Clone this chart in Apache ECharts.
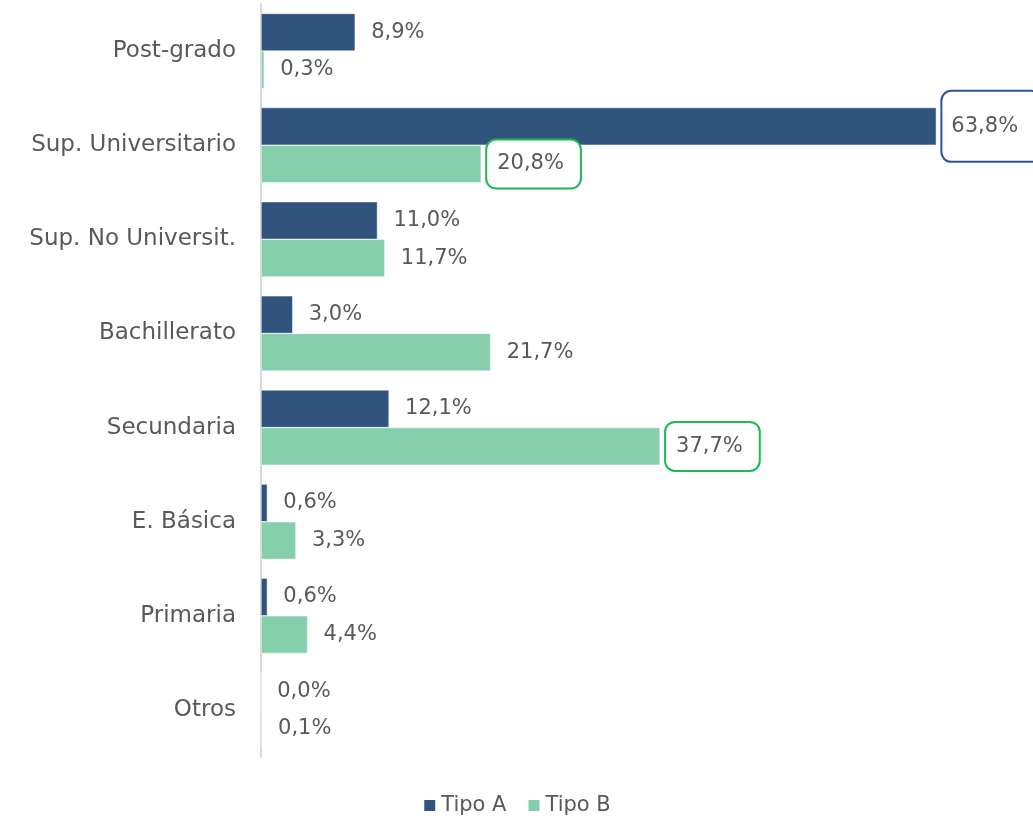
<!DOCTYPE html>
<html lang="es">
<head>
    <meta charset="utf-8">
    <title>Nivel educativo</title>
    <style>
        html, body { margin: 0; padding: 0; background: #fff; }
        #chart { width: 1033px; height: 821px; }
    </style>
</head>
<body>
<div id='chart'></div>
<script src='https://cdn.jsdelivr.net/npm/echarts@6/dist/echarts.min.js'></script>
<script>
var categories = ['Post-grado', 'Sup. Universitario', 'Sup. No Universit.', 'Bachillerato', 'Secundaria', 'E. Básica', 'Primaria', 'Otros'];
var tipoA = [8.9, 63.8, 11.0, 3.0, 12.1, 0.6, 0.6, 0.0];
var tipoB = [0.3, 20.8, 11.7, 21.7, 37.7, 3.3, 4.4, 0.1];
// labels drawn inside a rounded box
var boxedA = [1];
var boxedB = [1, 4];

var FONT = 'DejaVu Sans';
var TXT = '#595959';

function fmt(v) {
    return v.toFixed(1).replace('.', ',') + '%';
}

function buildData(values, boxed, boxColor, tall) {
    return values.map(function (v, i) {
        var item = { value: v };
        if (boxed.indexOf(i) >= 0) {
            item.label = {
                borderColor: boxColor,
                borderWidth: 2,
                borderRadius: 9,
                backgroundColor: '#fff',
                padding: tall ? [31, 22, 17, 9] : [14, 16, 12, 10]
            };
        }
        return item;
    });
}

var labelBase = {
    show: true,
    position: 'right',
    distance: 6,
    padding: [0, 0, 0, 10],
    color: TXT,
    fontFamily: FONT,
    fontSize: 21,
    formatter: function (p) { return fmt(p.value); }
};

var chart = echarts.init(document.getElementById('chart'));
chart.setOption({
    animation: false,
    grid: { left: 261, right: 31, top: 4, bottom: 64, containLabel: false },
    xAxis: {
        type: 'value',
        min: 0,
        max: 70,
        show: false
    },
    yAxis: {
        type: 'category',
        data: categories,
        inverse: true,
        axisLine: { show: true, lineStyle: { color: '#D9D9D9', width: 2 } },
        axisTick: { show: false },
        axisLabel: { color: TXT, fontFamily: FONT, fontSize: 23, margin: 25 }
    },
    legend: {
        bottom: 0,
        left: 'center',
        itemWidth: 13,
        itemHeight: 13,
        itemGap: 20,
        icon: 'rect',
        textStyle: { color: TXT, fontFamily: FONT, fontSize: 21 },
        data: ['Tipo A', 'Tipo B']
    },
    series: [
        {
            name: 'Tipo A',
            type: 'bar',
            barGap: '0%',
            barCategoryGap: '20%',
            itemStyle: { color: '#31547F', borderColor: '#fff', borderWidth: 0.5 },
            label: labelBase,
            data: buildData(tipoA, boxedA, '#2F5597', true)
        },
        {
            name: 'Tipo B',
            type: 'bar',
            barGap: '0%',
            barCategoryGap: '20%',
            itemStyle: { color: '#86CFAC', borderColor: '#fff', borderWidth: 0.5 },
            label: labelBase,
            data: buildData(tipoB, boxedB, '#1DB954', false)
        }
    ]
});
window.onresize = chart.resize;
</script>
</body>
</html>
